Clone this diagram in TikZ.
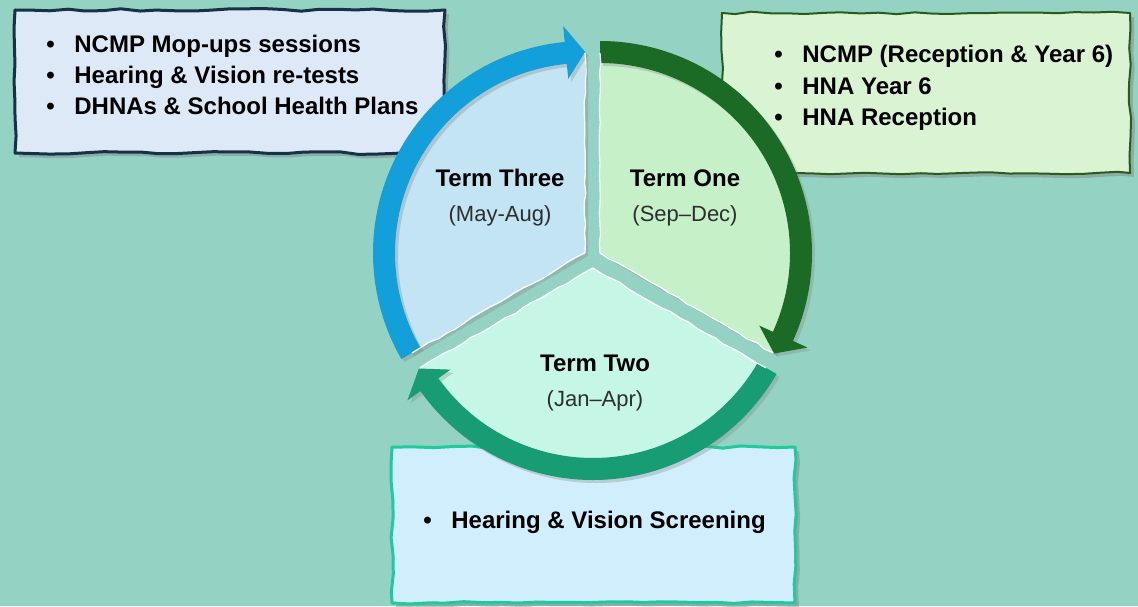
\documentclass[tikz,border=0pt]{standalone}
\usepackage{fontspec}
\setmainfont{Liberation Sans}
\usetikzlibrary{positioning,shadows,decorations.pathmorphing}
\definecolor{bgteal}{HTML}{94D3C4}
\definecolor{oneFill}{HTML}{C5F0C8}
\definecolor{oneRing}{HTML}{1B6A25}
\definecolor{twoFill}{HTML}{C5F6E6}
\definecolor{twoRing}{HTML}{179C74}
\definecolor{threeFill}{HTML}{C2E4F3}
\definecolor{threeRing}{HTML}{139FD9}
\definecolor{mopFill}{HTML}{DDE9F7}
\definecolor{mopDraw}{HTML}{163247}
\definecolor{ncmpFill}{HTML}{DAF3D3}
\definecolor{ncmpDraw}{HTML}{2B5B1C}
\definecolor{screenFill}{HTML}{D1EEFC}
\definecolor{screenDraw}{HTML}{1FCB9B}
\definecolor{monthgray}{HTML}{2E2E2E}
\newcommand{\bulletmark}{\makebox[14pt][l]{\textbullet}}
\tikzset{
    paper box/.style={decorate, decoration={random steps, segment length=9pt, amplitude=0.7pt},
        line join=round,
        drop shadow={shadow xshift=2pt, shadow yshift=-2pt, opacity=0.45}},
    mop box/.style={paper box, draw=mopDraw, fill=mopFill, line width=1.5pt},
    ncmp box/.style={paper box, draw=ncmpDraw, fill=ncmpFill, line width=1pt},
    screen box/.style={paper box, draw=screenDraw, fill=screenFill, line width=1.5pt},
    bullet line/.style={anchor=base west, inner sep=0pt, font=\fontsize{12}{14}\selectfont\bfseries},
    term title/.style={inner sep=0pt, font=\fontsize{12}{14}\selectfont\bfseries},
    term months/.style={inner sep=0pt, text=monthgray, font=\fontsize{11}{13}\selectfont},
    seam/.style={white, line width=0.6pt, decorate, decoration={random steps, segment length=5pt, amplitude=0.5pt}},
    soft shadow/.style={drop shadow={shadow xshift=1.5pt, shadow yshift=-1.5pt, opacity=0.3}}
}
\begin{document}
\begin{tikzpicture}[x=0.5pt, y=0.5pt]
\useasboundingbox (0,0) rectangle (1138,606);
\fill[bgteal] (0,0) rectangle (1138,606);

% note boxes
\draw[mop box] (15,453) -- (445,453) -- (445,596) -- (15,596) -- cycle;
\draw[ncmp box] (722,433) -- (1130,433) -- (1130,593) -- (722,593) -- cycle;
\draw[screen box] (392,3) -- (795,3) -- (795,159) -- (392,159) -- cycle;

\node[bullet line] (mopups) at (46,553) {\bulletmark NCMP Mop-ups sessions};
\node[bullet line] (retests) at (46,522) {\bulletmark Hearing \& Vision re-tests};
\node[bullet line] (dhnas) at (46,491) {\bulletmark DHNAs \& School Health Plans};

\node[bullet line] (ncmprecep) at (774,543) {\bulletmark NCMP (Reception \& Year 6)};
\node[bullet line] (hnayear) at (774,511) {\bulletmark HNA Year 6};
\node[bullet line] (hnarecep) at (774,480) {\bulletmark HNA Reception};

\node[bullet line] (screening) at (423,78) {\bulletmark Hearing \& Vision Screening};

% the three terms
\coordinate (c1) at (600,353);
\coordinate (c2) at (593,338);
\coordinate (c3) at (585,353);
\foreach \c/\s/\e/\ring/\fillc in {c1/90/-30/oneRing/oneFill, c2/-30/-150/twoRing/twoFill, c3/210/90/threeRing/threeFill}{
    \pgfmathsetmacro\b{\e+5.5}
    \begin{scope}[shift={(\c)}]
        \fill[\fillc, soft shadow] (0,0) -- (\s:201) arc[start angle=\s, end angle=\e, radius=201] -- cycle;
        \fill[\ring, soft shadow] (\s:212) arc[start angle=\s, end angle=\b, radius=212]
            -- (\b:228) -- (\e:201) -- (\b:175) -- (\b:190)
            arc[start angle=\b, end angle=\s, radius=190] -- cycle;
        \draw[seam] (0,0) -- (\s:200);
        \draw[seam] (0,0) -- (\e:200);
    \end{scope}
}

\node[term title] (termone) at (685,428) {Term One};
\node[term months, below=9pt of termone] (septodec) {(Sep–Dec)};
\node[term title] (termtwo) at (595,243) {Term Two};
\node[term months, below=9pt of termtwo] (jantoapr) {(Jan–Apr)};
\node[term title] (termthree) at (500,428) {Term Three};
\node[term months, below=9pt of termthree] (maytoaug) {(May-Aug)};
\end{tikzpicture}
\end{document}
